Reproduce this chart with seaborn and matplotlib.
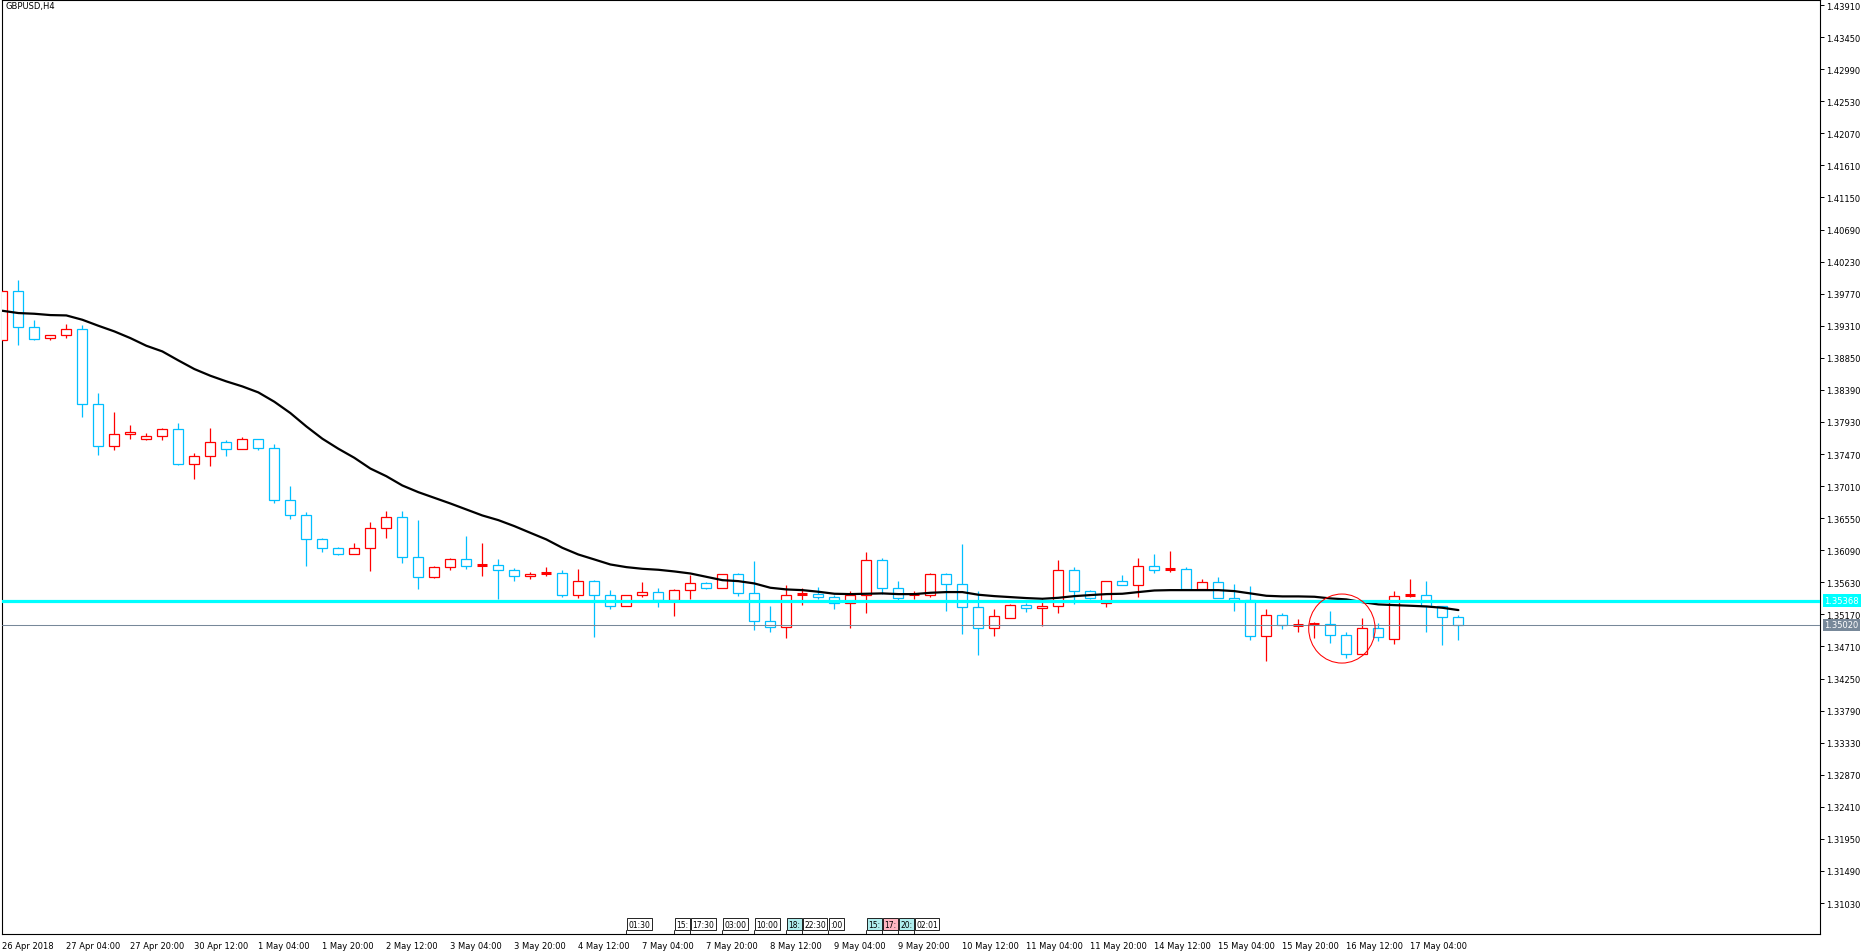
import numpy as np
import pandas as pd
import seaborn as sns
import matplotlib
matplotlib.use('Agg')
import matplotlib.pyplot as plt
import matplotlib.transforms as mtransforms
from matplotlib.patches import Rectangle, Ellipse

# GBPUSD H4 bars, 26 Apr 2018 12:00 .. 17 May 2018 16:00
opens = [1.39105, 1.39812, 1.39291, 1.39133, 1.39176, 1.39262, 1.38187, 1.37584, 1.37756, 1.37685,
         1.37728, 1.37828, 1.37326, 1.37441, 1.37642, 1.37541, 1.37685, 1.37556, 1.36815, 1.36598,
         1.36254, 1.36125, 1.36039, 1.36125, 1.36411, 1.36570, 1.35996, 1.35709, 1.35853, 1.35967,
         1.35867, 1.35881, 1.35810, 1.35724, 1.35752, 1.35767, 1.35451, 1.35652, 1.35451, 1.35293,
         1.35451, 1.35494, 1.35379, 1.35523, 1.35623, 1.35552, 1.35752, 1.35480, 1.35078, 1.34993,
         1.35452, 1.35466, 1.35423, 1.35337, 1.35452, 1.35953, 1.35552, 1.35452, 1.35452, 1.35753,
         1.35609, 1.35279, 1.34978, 1.35122, 1.35308, 1.35265, 1.35294, 1.35810, 1.35509, 1.35337,
         1.35652, 1.35595, 1.35867, 1.35810, 1.35824, 1.35538, 1.35638, 1.35408, 1.35380, 1.34864,
         1.35165, 1.35007, 1.35021, 1.35036, 1.34878, 1.34605, 1.34978, 1.34821, 1.35437, 1.35447,
         1.35294, 1.35136]
highs = [1.39820, 1.39970, 1.39396, 1.39176, 1.39339, 1.39324, 1.38344, 1.38077, 1.37890, 1.37771,
         1.37842, 1.37914, 1.37489, 1.37847, 1.37670, 1.37713, 1.37690, 1.37613, 1.37011, 1.36641,
         1.36260, 1.36139, 1.36201, 1.36488, 1.36660, 1.36646, 1.36517, 1.35867, 1.35982, 1.36288,
         1.36187, 1.35958, 1.35838, 1.35781, 1.35853, 1.35810, 1.35824, 1.35666, 1.35523, 1.35451,
         1.35638, 1.35552, 1.35537, 1.35738, 1.35638, 1.35752, 1.35767, 1.35929, 1.35293, 1.35595,
         1.35552, 1.35566, 1.35452, 1.35509, 1.36068, 1.35973, 1.35652, 1.35509, 1.35767, 1.35767,
         1.36173, 1.35509, 1.35251, 1.35323, 1.35337, 1.35409, 1.35953, 1.35853, 1.35523, 1.35652,
         1.35738, 1.35973, 1.36030, 1.36073, 1.35853, 1.35681, 1.35710, 1.35609, 1.35581, 1.35251,
         1.35193, 1.35107, 1.35064, 1.35213, 1.34921, 1.35122, 1.35050, 1.35509, 1.35681, 1.35652,
         1.35294, 1.35165]
lows = [1.39100, 1.39028, 1.39100, 1.39105, 1.39128, 1.38000, 1.37455, 1.37522, 1.37685, 1.37670,
        1.37665, 1.37312, 1.37111, 1.37298, 1.37441, 1.37541, 1.37527, 1.36767, 1.36536, 1.35862,
        1.36063, 1.36020, 1.36039, 1.35790, 1.36263, 1.35905, 1.35532, 1.35690, 1.35810, 1.35819,
        1.35719, 1.35389, 1.35647, 1.35676, 1.35719, 1.35418, 1.35403, 1.34844, 1.35250, 1.35293,
        1.35422, 1.35274, 1.35150, 1.35394, 1.35537, 1.35552, 1.35432, 1.34944, 1.34916, 1.34830,
        1.35308, 1.35394, 1.35251, 1.34974, 1.35193, 1.35466, 1.35365, 1.35394, 1.35423, 1.35222,
        1.34887, 1.34586, 1.34859, 1.35122, 1.35208, 1.35007, 1.35193, 1.35323, 1.35394, 1.35279,
        1.35595, 1.35423, 1.35767, 1.35781, 1.35538, 1.35538, 1.35408, 1.35222, 1.34801, 1.34500,
        1.34964, 1.34921, 1.34835, 1.34763, 1.34548, 1.34605, 1.34787, 1.34749, 1.35423, 1.34921,
        1.34730, 1.34801]
closes = [1.39812, 1.39291, 1.39119, 1.39176, 1.39262, 1.38187, 1.37584, 1.37756, 1.37785, 1.37728,
          1.37828, 1.37326, 1.37441, 1.37642, 1.37541, 1.37685, 1.37556, 1.36815, 1.36598, 1.36254,
          1.36125, 1.36039, 1.36125, 1.36411, 1.36569, 1.35996, 1.35709, 1.35853, 1.35967, 1.35867,
          1.35881, 1.35810, 1.35724, 1.35752, 1.35767, 1.35451, 1.35652, 1.35451, 1.35293, 1.35451,
          1.35494, 1.35379, 1.35523, 1.35623, 1.35552, 1.35752, 1.35480, 1.35078, 1.34992, 1.35452,
          1.35466, 1.35423, 1.35337, 1.35452, 1.35953, 1.35552, 1.35409, 1.35466, 1.35753, 1.35609,
          1.35279, 1.34978, 1.35150, 1.35308, 1.35265, 1.35294, 1.35810, 1.35509, 1.35409, 1.35652,
          1.35595, 1.35867, 1.35810, 1.35824, 1.35538, 1.35638, 1.35408, 1.35380, 1.34864, 1.35165,
          1.35021, 1.35021, 1.35036, 1.34878, 1.34605, 1.34978, 1.34849, 1.35437, 1.35447, 1.35294,
          1.35136, 1.35020]
moving_avg = [1.39525, 1.39492, 1.39482, 1.39463, 1.39458, 1.39396, 1.39310, 1.39229, 1.39133, 1.39023,
              1.38942, 1.38813, 1.38689, 1.38593, 1.38512, 1.38440, 1.38354, 1.38220, 1.38058, 1.37866,
              1.37690, 1.37546, 1.37416, 1.37262, 1.37152, 1.37019, 1.36923, 1.36842, 1.36761, 1.36675,
              1.36589, 1.36522, 1.36436, 1.36340, 1.36245, 1.36125, 1.36029, 1.35958, 1.35886, 1.35848,
              1.35824, 1.35810, 1.35786, 1.35757, 1.35709, 1.35661, 1.35647, 1.35614, 1.35552, 1.35528,
              1.35518, 1.35495, 1.35466, 1.35461, 1.35466, 1.35471, 1.35461, 1.35461, 1.35480, 1.35490,
              1.35490, 1.35452, 1.35432, 1.35418, 1.35404, 1.35394, 1.35408, 1.35432, 1.35447, 1.35461,
              1.35466, 1.35490, 1.35513, 1.35518, 1.35518, 1.35518, 1.35518, 1.35504, 1.35471, 1.35437,
              1.35428, 1.35428, 1.35423, 1.35399, 1.35385, 1.35346, 1.35313, 1.35303, 1.35294, 1.35284,
              1.35265, 1.35232]

date_labels = ['26 Apr 2018', '27 Apr 04:00', '27 Apr 20:00', '30 Apr 12:00', '1 May 04:00',
               '1 May 20:00', '2 May 12:00', '3 May 04:00', '3 May 20:00', '4 May 12:00',
               '7 May 04:00', '7 May 20:00', '8 May 12:00', '9 May 04:00', '9 May 20:00',
               '10 May 12:00', '11 May 04:00', '11 May 20:00', '14 May 12:00', '15 May 04:00',
               '15 May 20:00', '16 May 12:00', '17 May 04:00']
date_bars = [0, 4, 8, 12, 16, 20, 24, 28, 32, 36, 40, 44, 48, 52, 56, 60, 64, 68, 72, 76, 80, 84, 88]

price_ticks = [1.43910, 1.43450, 1.42990, 1.42530, 1.42070, 1.41610, 1.41150, 1.40690, 1.40230,
               1.39770, 1.39310, 1.38850, 1.38390, 1.37930, 1.37470, 1.37010, 1.36550, 1.36090,
               1.35630, 1.35170, 1.34710, 1.34250, 1.33790, 1.33330, 1.32870, 1.32410, 1.31950,
               1.31490, 1.31030]

level_price = 1.35368
bid_price = 1.35020

# calendar event markers along the time axis
event_bars = [39, 42, 43, 45, 47, 49, 50, 51.6, 54, 55, 56, 57]
event_texts = ['01:30', '15:', '17:30', '03:00', '10:00', '18:', '22:30', ':00', '15:', '17:', '20:', '02:01']
event_fills = ['white', 'white', 'white', 'white', 'white', '#afeeee', 'white', 'white',
               '#afeeee', '#ffb6c1', '#afeeee', 'white']

UP = '#ff0000'
DOWN = '#00bfff'

sns.set_style('white')
plt.rcParams['font.family'] = ['DejaVu Sans']

fig = plt.figure(figsize=(18.72, 9.53), dpi=100)
ax = fig.add_axes([2 / 1872, 18 / 953, 1818 / 1872, 934 / 953])

bars = np.arange(len(opens))
body_w = 0.62
for i, o, h, l, c in zip(bars, opens, highs, lows, closes):
    col = UP if c >= o else DOWN
    ax.vlines(i, l, h, color=col, lw=0.9, zorder=2)
    lo, hgt = min(o, c), abs(c - o)
    if hgt < 0.0002:
        ax.hlines(lo + hgt / 2, i - body_w / 2, i + body_w / 2, color=col, lw=2.2, zorder=3)
    else:
        ax.add_patch(Rectangle((i - body_w / 2, lo), body_w, hgt, facecolor='white',
                               edgecolor=col, lw=0.9, zorder=3))

df = pd.DataFrame({'bar': bars, 'ma': moving_avg})
sns.lineplot(data=df, x='bar', y='ma', color='black', lw=1.6, ax=ax, zorder=4)

ax.axhline(bid_price, color='#778899', lw=0.75, zorder=4)
ax.axhline(level_price, color='#00ffff', lw=2.3, zorder=5)

ax.add_patch(Ellipse((83.72, 1.34967), 4.15, 0.0099, fill=False, edgecolor='#ff0000',
                     lw=0.75, zorder=6))

ax.set_xlim(-0.02, 113.6)
ax.set_ylim(1.30586, 1.43982)
ax.set_xlabel('')
ax.set_ylabel('')

ax.set_xticks(date_bars)
ax.set_xticklabels(date_labels)
plt.setp(ax.get_xticklabels(), ha='left')
ax.yaxis.tick_right()
ax.set_yticks(price_ticks)
ax.set_yticklabels([f'{p:.5f}' for p in price_ticks])
ax.tick_params(axis='both', direction='out', length=3, width=0.7, labelsize=6, pad=1.5,
               colors='black')
ax.tick_params(axis='x', pad=2)
for sp in ax.spines.values():
    sp.set_color('black')
    sp.set_linewidth(0.8)

trans_y = mtransforms.blended_transform_factory(ax.transAxes, ax.transData)
ax.text(1.0025, level_price, '1.35368', transform=trans_y, ha='left', va='center', fontsize=6,
        color='white', bbox=dict(boxstyle='square,pad=0.2', fc='#00ffff', ec='none'),
        clip_on=False, zorder=7)
ax.text(1.0025, bid_price, '1.35020', transform=trans_y, ha='left', va='center', fontsize=6,
        color='white', bbox=dict(boxstyle='square,pad=0.2', fc='#778899', ec='none'),
        clip_on=False, zorder=7)

trans_x = mtransforms.blended_transform_factory(ax.transData, ax.transAxes)
for b, t, f in zip(event_bars, event_texts, event_fills):
    ax.plot([b, b], [0, 0.004], color='black', lw=0.6, transform=trans_x, zorder=6)
    ax.text(b + 0.12, 0.0105, t, transform=trans_x, ha='left', va='center', fontsize=5.5,
            color='black', bbox=dict(boxstyle='square,pad=0.18', fc=f, ec='black', lw=0.6),
            zorder=7)

fig.text(5 / 1872, 1 - 2 / 953, 'GBPUSD,H4', ha='left', va='top', fontsize=6, color='black')

fig.savefig('out.png', dpi=100, facecolor='white')
